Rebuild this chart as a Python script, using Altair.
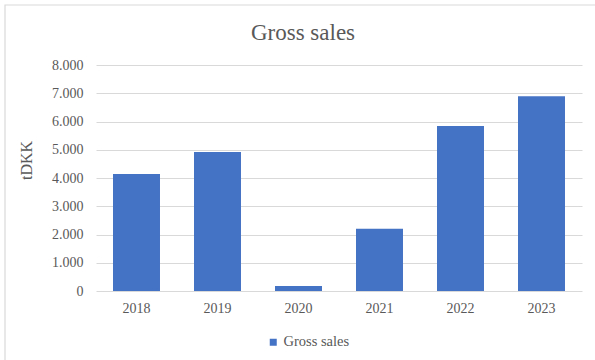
import altair as alt
import pandas as pd

years = ["2018", "2019", "2020", "2021", "2022", "2023"]
gross_sales = [4140, 4920, 180, 2200, 5840, 6890]
series_name = "Gross sales"
chart_title = "Gross sales"
y_ticks = [0, 1000, 2000, 3000, 4000, 5000, 6000, 7000, 8000]

df = pd.DataFrame({"year": years, "value": gross_sales, "series": [series_name] * len(years)})

FONT = "Liberation Serif"
TXT = "#595959"
GRID = "#d9d9d9"
BLUE = "#4472C4"

W, H = 486, 226
LEFT, TOP = 96, 65

border = alt.Chart(pd.DataFrame({"a": [0]})).mark_rect(
    fill=None, stroke=GRID, strokeWidth=1.2
).encode(
    x=alt.value(5 - LEFT), x2=alt.value(610 - LEFT),
    y=alt.value(5 - TOP), y2=alt.value(375 - TOP),
)

title = alt.Chart(pd.DataFrame({"t": [chart_title]})).mark_text(
    font=FONT, fontSize=23, color=TXT, align="center", baseline="alphabetic"
).encode(
    text="t:N", x=alt.value(303 - LEFT), y=alt.value(40 - TOP)
)

bars = alt.Chart(df).mark_bar(color=BLUE).encode(
    x=alt.X("year:N", sort=years,
            scale=alt.Scale(paddingInner=0.42, paddingOuter=0.21),
            axis=alt.Axis(title=None, labelAngle=0, ticks=False, domain=False,
                          labelPadding=10, labelFontSize=14,
                          labelColor=TXT, grid=False)),
    y=alt.Y("value:Q", scale=alt.Scale(domain=[0, 8000], nice=False),
            axis=alt.Axis(values=y_ticks, title="tDKK", ticks=False, domain=False,
                          labelPadding=13, labelFontSize=14,
                          labelColor=TXT, gridColor=GRID, gridWidth=1.2,
                          labelExpr="replace(format(datum.value, ','), ',', '.')",
                          titleFontSize=16, titleColor=TXT,
                          titleFontWeight="normal", titleAngle=-90,
                          titleX=26 - LEFT, titleY=160 - TOP,
                          titleAlign="center", titleBaseline="middle")),
    fill=alt.Fill("series:N", scale=alt.Scale(domain=[series_name], range=[BLUE]),
                  legend=alt.Legend(title=None, orient="none",
                                    legendX=266 - LEFT, legendY=335 - TOP,
                                    symbolType="square", symbolSize=49,
                                    symbolStrokeWidth=0, padding=0,
                                    labelFontSize=14.5,
                                    labelColor=TXT, labelOffset=3)),
)

chart = alt.layer(border, title, bars).properties(
    width=W, height=H,
    autosize=alt.AutoSizeParams(type="none"),
    padding={"left": LEFT, "top": TOP, "right": 595 - LEFT - W, "bottom": 360 - TOP - H},
).configure(
    background="white", font=FONT
).configure_view(stroke=None).configure_axis(
    labelFont=FONT, titleFont=FONT
).configure_legend(labelFont=FONT)

chart.save("out.html", embed_options={"renderer": "svg", "actions": False})
